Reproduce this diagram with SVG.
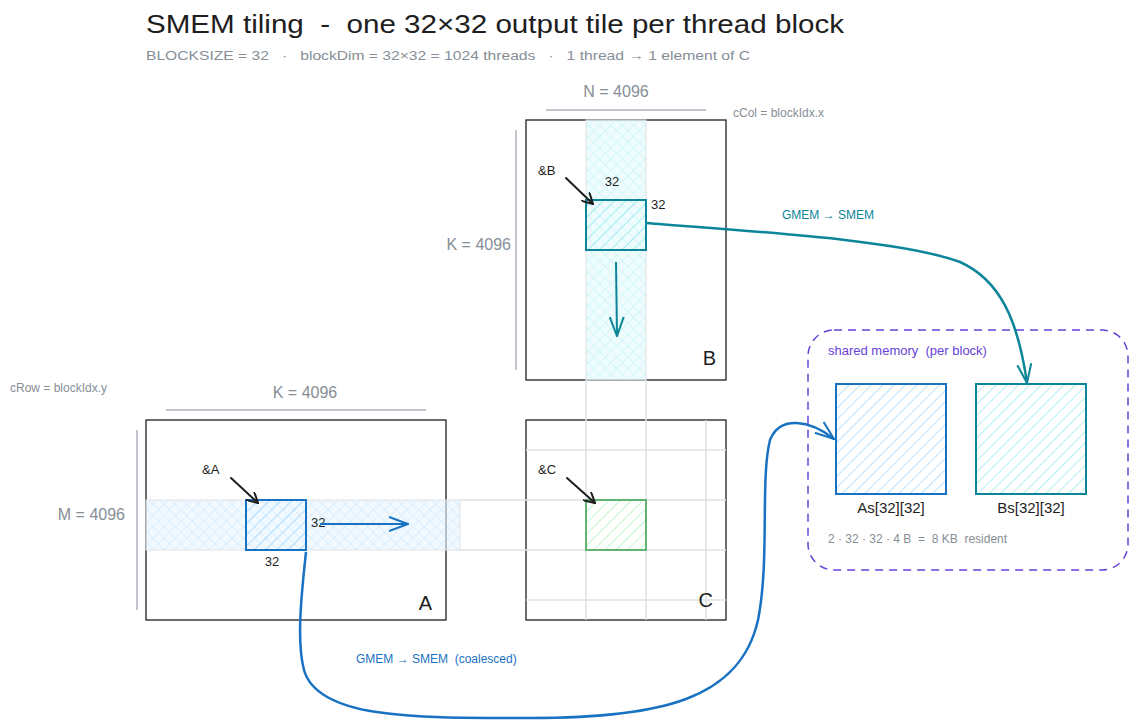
<svg xmlns="http://www.w3.org/2000/svg" width="1136" height="728" viewBox="0 0 1136 728">
<defs>
<style>
text{font-family:"Liberation Sans","DejaVu Sans",sans-serif;white-space:pre}
.title{font-size:26px;fill:#1e1e1e}
.sub{font-size:13px;fill:#868e96}
.dim{font-size:16px;fill:#868e96}
.small{font-size:12px;fill:#868e96}
.lbl{font-size:13px;fill:#1e1e1e}
.big{font-size:20px;fill:#1e1e1e}
.mat{fill:#fff;stroke:#1e1e1e;stroke-width:1.3}
.grid{stroke:#dee2e6;stroke-width:1.5;fill:none}
.dimline{stroke:#adb5bd;stroke-width:1.5}
.ptr{stroke:#1e1e1e;stroke-width:2;fill:none;stroke-linecap:round}
</style>
<pattern id="xblue" width="8" height="8" patternUnits="userSpaceOnUse" patternTransform="rotate(45)">
<rect width="8" height="8" fill="#e7f5ff" fill-opacity="0.6"/>
<path d="M0 0V8M0 0H8" stroke="#a5d8ff" stroke-width="0.8" opacity="0.7"/>
</pattern>
<pattern id="xcyan" width="8" height="8" patternUnits="userSpaceOnUse" patternTransform="rotate(45)">
<rect width="8" height="8" fill="#e3fafc" fill-opacity="0.6"/>
<path d="M0 0V8M0 0H8" stroke="#99e9f2" stroke-width="0.8" opacity="0.7"/>
</pattern>
<pattern id="hblue" width="8" height="8" patternUnits="userSpaceOnUse" patternTransform="rotate(45)">
<path d="M0 0V8" stroke="#a5d8ff" stroke-width="1.5"/>
</pattern>
<pattern id="hcyan" width="8" height="8" patternUnits="userSpaceOnUse" patternTransform="rotate(45)">
<path d="M0 0V8" stroke="#99e9f2" stroke-width="1.5"/>
</pattern>
<pattern id="hgreen" width="8" height="8" patternUnits="userSpaceOnUse" patternTransform="rotate(45)">
<path d="M0 0V8" stroke="#b2f2bb" stroke-width="1.5"/>
</pattern>
<marker id="ablack" viewBox="0 0 12 12" refX="11" refY="6" markerWidth="12" markerHeight="12" markerUnits="userSpaceOnUse" orient="auto">
<path d="M0 0L11 6L0 12" fill="none" stroke="#1e1e1e" stroke-width="2"/>
</marker>
<marker id="ablue" viewBox="0 0 20 20" refX="19" refY="10" markerWidth="20" markerHeight="20" markerUnits="userSpaceOnUse" orient="auto">
<path d="M0 3L19 10L0 17" fill="none" stroke="#1971c2" stroke-width="2"/>
</marker>
<marker id="ateal" viewBox="0 0 20 20" refX="19" refY="10" markerWidth="20" markerHeight="20" markerUnits="userSpaceOnUse" orient="auto">
<path d="M0 3L19 10L0 17" fill="none" stroke="#0c8599" stroke-width="2"/>
</marker>
</defs>

<g id="title">
<text class="title" x="146" y="33" textLength="698" lengthAdjust="spacingAndGlyphs">SMEM tiling  -  one 32×32 output tile per thread block</text>
<text class="sub" x="146" y="60" textLength="604" lengthAdjust="spacingAndGlyphs">BLOCKSIZE = 32   ·   blockDim = 32×32 = 1024 threads   ·   1 thread → 1 element of C</text>
</g>

<g id="matrixB">
<rect class="mat" x="526" y="120" width="200" height="260"/>
<rect x="586" y="120" width="60" height="260" fill="url(#xcyan)" stroke="#dee2e6" stroke-width="1"/>
<line class="dimline" x1="546" y1="110" x2="706" y2="110"/>
<text class="dim" x="616" y="97" text-anchor="middle">N = 4096</text>
<text class="small" x="733" y="117">cCol = blockIdx.x</text>
<line class="dimline" x1="516" y1="130" x2="516" y2="370"/>
<text class="dim" x="511" y="250" text-anchor="end">K = 4096</text>
<text class="big" x="716" y="365" text-anchor="end" font-size="22">B</text>
</g>

<g id="matrixA">
<rect class="mat" x="146" y="420" width="300" height="200"/>
<rect x="146" y="500" width="314" height="50" fill="url(#xblue)" stroke="#dee2e6" stroke-width="1"/>
<line class="dimline" x1="166" y1="410" x2="426" y2="410"/>
<text class="dim" x="305" y="398" text-anchor="middle">K = 4096</text>
<text class="small" x="10" y="392">cRow = blockIdx.y</text>
<line class="dimline" x1="137" y1="430" x2="137" y2="610"/>
<text class="dim" x="125" y="520" text-anchor="end">M = 4096</text>
<text class="big" x="432" y="610" text-anchor="end" font-size="22">A</text>
</g>

<g id="matrixC">
<rect class="mat" x="526" y="420" width="200" height="200"/>
<g class="grid">
<path d="M586 380V620M646 380V620M706 420V620"/>
<path d="M526 450H726M460 500H726M460 550H726M526 600H726"/>
</g>
<text class="big" x="713" y="607" text-anchor="end" font-size="18">C</text>
</g>

<g id="tileB">
<rect x="586" y="200" width="60" height="50" fill="url(#hcyan)" stroke="#0c8599" stroke-width="2"/>
<text class="lbl" x="612" y="186" text-anchor="middle">32</text>
<text class="lbl" x="651" y="209">32</text>
<text class="lbl" x="538" y="175" font-size="14">&amp;B</text>
</g>

<g id="tileA">
<rect x="246" y="500" width="60" height="50" fill="url(#hblue)" stroke="#1971c2" stroke-width="2"/>
<text class="lbl" x="311" y="527">32</text>
<text class="lbl" x="272" y="566" text-anchor="middle">32</text>
<text class="lbl" x="202" y="474" font-size="14">&amp;A</text>
</g>

<g id="tileC">
<rect x="586" y="500" width="60" height="50" fill="url(#hgreen)" stroke="#2f9e44" stroke-width="1.8" stroke-opacity="0.8"/>
<text class="lbl" x="538" y="474" font-size="14">&amp;C</text>
</g>

<g id="shared">
<rect x="808" y="330" width="320" height="240" rx="26" fill="none" stroke="#6741d9" stroke-width="1.5" stroke-dasharray="8 6"/>
<text x="828" y="355" font-size="13" fill="#6741d9">shared memory  (per block)</text>
<text class="small" x="828" y="543">2 · 32 · 32 · 4 B  =  8 KB  resident</text>
</g>

<g id="As">
<rect x="836" y="384" width="110" height="110" fill="url(#hblue)" stroke="#1971c2" stroke-width="2"/>
<text x="891" y="513" font-size="15" fill="#1e1e1e" text-anchor="middle">As[32][32]</text>
</g>

<g id="Bs">
<rect x="976" y="384" width="110" height="110" fill="url(#hcyan)" stroke="#0c8599" stroke-width="2"/>
<text x="1031" y="513" font-size="15" fill="#1e1e1e" text-anchor="middle">Bs[32][32]</text>
</g>

<g id="connectors">
<path class="ptr" d="M566 178L593 204" marker-end="url(#ablack)"/>
<path class="ptr" d="M231 478L258 503" marker-end="url(#ablack)"/>
<path class="ptr" d="M567 478L595 503" marker-end="url(#ablack)"/>
<path d="M616 262L617 336" stroke="#0c8599" stroke-width="2" fill="none" marker-end="url(#ateal)"/>
<path d="M320 524L408 524" stroke="#1971c2" stroke-width="2" fill="none" marker-end="url(#ablue)"/>
<path d="M646 223C760 232 900 240 960 262C1000 280 1018 320 1027 383" stroke="#0c8599" stroke-width="2.5" fill="none" marker-end="url(#ateal)"/>
<text x="828" y="219" font-size="12" fill="#0c8599" text-anchor="middle">GMEM → SMEM</text>
<path d="M306 552C302 590 296 640 304 670C318 720 420 718 530 718C660 718 740 700 758 620C770 560 760 480 770 440C780 415 810 420 834 439" stroke="#1971c2" stroke-width="2.5" fill="none" marker-end="url(#ablue)"/>
<text x="356" y="663" font-size="12" fill="#1971c2">GMEM → SMEM  (coalesced)</text>
</g>
</svg>
